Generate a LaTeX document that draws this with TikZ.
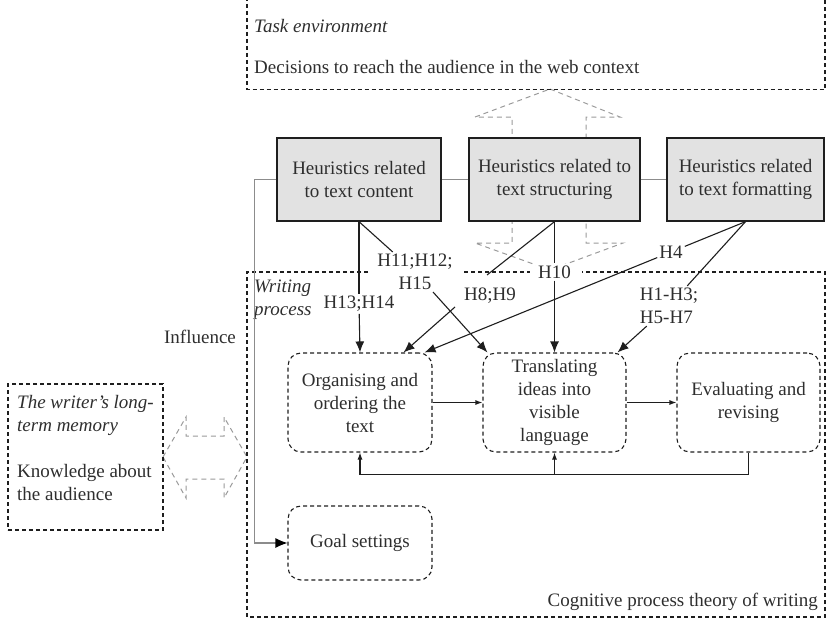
\documentclass[tikz,border=0pt]{standalone}
\usepackage{fontspec}
\setmainfont{Liberation Serif}
\usetikzlibrary{arrows.meta,calc}
\definecolor{txt}{HTML}{2E2E2E}
\definecolor{ln}{HTML}{1E1E1E}
\definecolor{grayln}{HTML}{8C8C8C}
\definecolor{garr}{HTML}{9A9A9A}
\definecolor{hfill}{HTML}{E2E2E2}
\begin{document}
\begin{tikzpicture}[x=1pt,y=-1pt,
  every node/.style={font=\fontsize{19}{23}\selectfont, text=txt},
  heur/.style={draw=ln, line width=1.3pt, fill=hfill, minimum height=83pt, align=center, inner sep=0pt},
  proc/.style={draw=ln, line width=1.1pt, dash pattern=on 4pt off 3pt, rounded corners=13pt, align=center, inner sep=0pt},
  dbox/.style={draw=ln, line width=1.1pt, dash pattern=on 4pt off 3pt},
  garrow/.style={draw=garr, line width=1pt, dash pattern=on 5pt off 4pt},
  gline/.style={draw=grayln, line width=1.1pt},
  lbl/.style={fill=white, inner sep=2pt, align=center},
  conn/.style={draw=ln, line width=1.1pt},
  bigarr/.style={conn, -{Latex[length=11pt,width=9pt]}},
  smallarr/.style={conn, -{Latex[length=7pt,width=5pt]}}
]
\useasboundingbox (0,0) rectangle (826,618);

% hollow dashed double arrows
\draw[garrow] (550,89) -- (620,117) -- (586,117) -- (586,243) -- (623,243) -- (550,270) -- (475,243) -- (512,243) -- (512,117) -- (475,117) -- cycle;
\draw[garrow] (163,457) -- (186,417) -- (186,436) -- (224,436) -- (224,417) -- (247,457) -- (224,498) -- (224,479) -- (186,479) -- (186,498) -- cycle;

% task environment
\draw[dbox] (247,-3) -- (247,89.5) -- (825,89.5) -- (825,-3);
\node[anchor=west, inner sep=0pt, font=\fontsize{19}{23}\selectfont\itshape] (tasklbl) at (254,26) {Task environment};
\node[anchor=west, inner sep=0pt] (tasktxt) at (254,67) {Decisions to reach the audience in the web context};

% writing process frame
\draw[dbox] (368,272) -- (247,272) -- (247,617) -- (825,617) -- (825,272) -- (582,272);
\draw[dbox] (464,272) -- (530,272);
\node[anchor=west, inner sep=0pt, align=left, font=\fontsize{19}{23}\selectfont\itshape] (wplbl) at (254,299.5) {Writing\\process};
\node[anchor=east, inner sep=0pt] (cpt) at (818,602) {Cognitive process theory of writing};

% long-term memory
\node[dbox, minimum width=155pt, minimum height=146pt, inner sep=0pt] (mem) at (85.5,457) {};
\node[anchor=west, inner sep=0pt, align=left] (memtxt) at (17,447.5) {\textit{The writer’s long-}\\\textit{term memory}\\[23pt]Knowledge about\\the audience};
\node (infl) at (200,337) {Influence};

% heuristics boxes
\node[heur, minimum width=164pt] (hc) at (359,179.5) {Heuristics related\\to text content};
\node[heur, minimum width=171pt] (hs) at (554.5,179.5) {Heuristics related to\\text structuring};
\node[heur, minimum width=157pt] (hf) at (745.5,179.5) {Heuristics related\\to text formatting};

% process boxes
\node[proc, minimum width=144pt, minimum height=99pt] (org) at (360,402.5) {Organising and\\ordering the\\text};
\node[proc, minimum width=143pt, minimum height=99pt] (trans) at (554.5,402.5) {Translating\\ideas into\\visible\\language};
\node[proc, minimum width=143pt, minimum height=99pt] (eval) at (748.5,402.5) {Evaluating and\\revising};
\node[proc, minimum width=144pt, minimum height=74pt] (goal) at (360,543) {Goal settings};

% labels
\node[lbl] (l1112) at (415,272) {H11;H12;\\H15};
\node[lbl] (l1314) at (359,304) {H13;H14};
\node[lbl] (l89) at (490,296) {H8;H9};
\node[lbl] (l10) at (554.5,272) {H10};
\node[lbl] (l4) at (671,252) {H4};
\node[lbl, align=left] (l13) at (669,306) {H1-H3;\\H5-H7};
\coordinate (c89a) at (487,275);
\coordinate (c89b) at (455,307);

% gray connectors
\draw[gline] (hc.east) -- (hs.west);
\draw[gline] (hs.east) -- (hf.west);
\draw[gline, -{Latex[length=12pt,width=10pt,color=black]}] (hc.west) -- ++(-22,0) |- (goal.west);

% heuristic connectors
\draw[conn] (hc.south) -- (l1112);
\draw[bigarr] (l1112) -- ([xshift=5pt]trans.north west);
\draw[conn] (hc.south) -- (l1314);
\draw[bigarr] (l1314) -- (org.north);
\draw[conn] (hs.south) -- (c89a);
\draw[bigarr] (c89b) -- ([xshift=-29pt]org.north east);
\draw[conn] (hs.south) -- (l10);
\draw[bigarr] (l10) -- (trans.north);
\draw[conn] (hf.south) -- (l4);
\draw[bigarr] (l4) -- ([xshift=-8pt]org.north east);
\draw[conn] (hf.south) -- (l13);
\draw[bigarr] (l13) -- ([xshift=-9pt]trans.north east);

% process connectors
\draw[smallarr] (org.east) -- (trans.west);
\draw[smallarr] (trans.east) -- (eval.west);
\coordinate (fb) at ($(eval.south)+(0,22)$);
\draw[smallarr] (eval.south) -- (fb) -| (org.south);
\draw[smallarr] (trans.south |- fb) -- (trans.south);
\end{tikzpicture}
\end{document}
